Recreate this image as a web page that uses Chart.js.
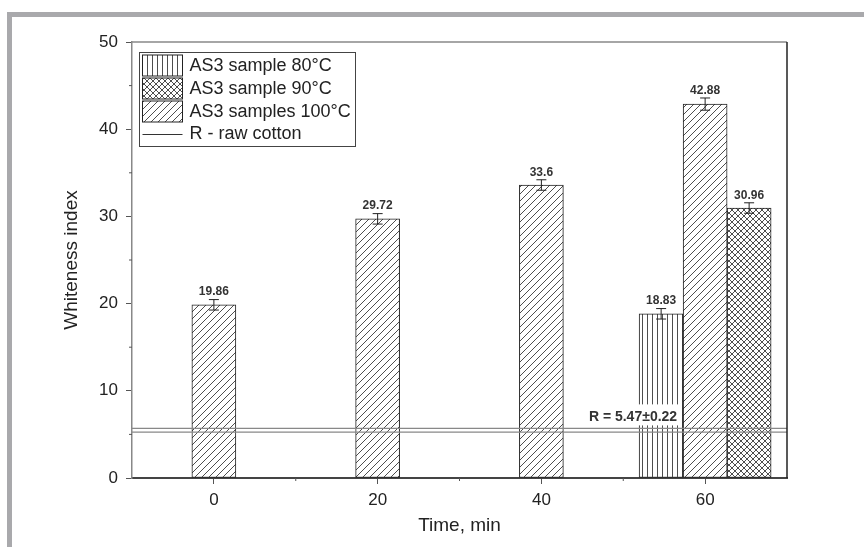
<!DOCTYPE html>
<html>
<head>
<meta charset="utf-8">
<script src="https://cdn.jsdelivr.net/npm/chart.js@4.4.0/dist/chart.umd.min.js"></script>
<style>
  html, body { margin: 0; padding: 0; background: #fff; }
  #wrap { position: relative; width: 864px; height: 547px; }
</style>
</head>
<body>
<div id="wrap"><canvas id="c" width="864" height="547"></canvas></div>
<script>
// data
const times = [0, 20, 40, 60];
const s80 = [null, null, null, 18.83];
const s90 = [null, null, null, 30.96];
const s100 = [19.86, 29.72, 33.6, 42.88];
const err80 = [null, null, null, 0.6];
const err90 = [null, null, null, 0.6];
const err100 = [0.6, 0.6, 0.6, 0.7];
const rawMean = 5.47;
const rawSd = 0.22;
const xRange = [-10, 70];
const xMinor = [10, 30, 50];
const yMinor = [5, 15, 25, 35, 45];
const labels = ['AS3 sample 80°C', 'AS3 sample 90°C', 'AS3 samples 100°C', 'R - raw cotton'];

const FONT = '"Liberation Sans", Arial, sans-serif';
const INK = '#333';

function makePattern(kind) {
  const c = document.createElement('canvas');
  const n = kind === 'vert' ? 5 : (kind === 'diag' ? 7 : 6);
  c.width = n; c.height = n;
  const g = c.getContext('2d');
  g.fillStyle = '#fff';
  g.fillRect(0, 0, n, n);
  g.strokeStyle = '#3a3a3a';
  g.lineWidth = 0.9;
  g.beginPath();
  if (kind === 'vert') {
    g.moveTo(2.5, 0); g.lineTo(2.5, n);
  } else {
    g.moveTo(-1, n + 1); g.lineTo(n + 1, -1);
    if (kind === 'cross') { g.moveTo(-1, -1); g.lineTo(n + 1, n + 1); }
  }
  g.stroke();
  return g.createPattern(c, 'repeat');
}
const pVert = makePattern('vert');
const pCross = makePattern('cross');
const pDiag = makePattern('diag');

const pts = arr => times.map((t, i) => ({ x: t, y: arr[i] }));

const barStyle = { borderColor: '#222', borderWidth: 1, borderSkipped: false, barThickness: 44, skipNull: true };

const decor = {
  id: 'decor',
  beforeDraw(chart) {
    const ctx = chart.ctx;
    ctx.save();
    ctx.fillStyle = '#fff';
    ctx.fillRect(0, 0, chart.width, chart.height);
    ctx.fillStyle = '#a9a9ac';
    ctx.fillRect(7, 12, chart.width - 7, 5);
    ctx.fillRect(7, 12, 5, chart.height - 12);
    ctx.restore();
  },
  afterDatasetsDraw(chart) {
    const ctx = chart.ctx;
    const a = chart.chartArea;
    const xs = chart.scales.x, ys = chart.scales.y;
    ctx.save();
    // error bars and value labels
    const sets = [[0, s80, err80], [1, s100, err100], [2, s90, err90]];
    sets.forEach(([di, vals, errs]) => {
      const meta = chart.getDatasetMeta(di);
      vals.forEach((v, i) => {
        if (v == null) return;
        const x = meta.data[i].x;
        const yt = ys.getPixelForValue(v + errs[i]);
        const yb = ys.getPixelForValue(v - errs[i]);
        ctx.strokeStyle = '#222';
        ctx.lineWidth = 1;
        ctx.beginPath();
        ctx.moveTo(x, yt); ctx.lineTo(x, yb);
        ctx.moveTo(x - 5, yt); ctx.lineTo(x + 5, yt);
        ctx.moveTo(x - 5, yb); ctx.lineTo(x + 5, yb);
        ctx.stroke();
        ctx.fillStyle = INK;
        ctx.font = 'bold 12px ' + FONT;
        ctx.textAlign = 'center';
        ctx.textBaseline = 'bottom';
        ctx.fillText(String(v), x, yt - 1.5);
      });
    });
    // raw cotton label, boxed over the 80°C bar
    const m80 = chart.getDatasetMeta(0).data[3];
    const rx = m80.x + 16;
    const ry = ys.getPixelForValue(rawMean + rawSd) - 2;
    ctx.font = 'bold 14px ' + FONT;
    const rt = 'R = ' + rawMean + '±' + rawSd;
    const tw = ctx.measureText(rt).width;
    ctx.fillStyle = '#fff';
    ctx.fillRect(rx - tw - 3, ry - 22, tw + 6, 21);
    ctx.fillStyle = INK;
    ctx.textAlign = 'right';
    ctx.textBaseline = 'bottom';
    ctx.fillText(rt, rx, ry - 2);
    // frame top and right
    ctx.lineWidth = 1.5;
    ctx.strokeStyle = '#888';
    ctx.beginPath(); ctx.moveTo(a.left, a.top); ctx.lineTo(a.right, a.top); ctx.stroke();
    ctx.strokeStyle = '#222';
    ctx.beginPath(); ctx.moveTo(a.right, a.top); ctx.lineTo(a.right, a.bottom); ctx.stroke();
    // minor ticks
    ctx.lineWidth = 1;
    ctx.strokeStyle = '#555';
    ctx.beginPath();
    xMinor.forEach(v => { const x = xs.getPixelForValue(v); ctx.moveTo(x, a.bottom); ctx.lineTo(x, a.bottom + 3); });
    yMinor.forEach(v => { const y = ys.getPixelForValue(v); ctx.moveTo(a.left, y); ctx.lineTo(a.left - 3, y); });
    ctx.stroke();
    // legend
    const lx = a.left + 7.5, ly = a.top + 10.5;
    ctx.fillStyle = '#fff';
    ctx.fillRect(lx, ly, 216, 94);
    ctx.strokeStyle = '#444';
    ctx.lineWidth = 1;
    ctx.strokeRect(lx, ly, 216, 94);
    const fills = [pVert, pCross, pDiag];
    const rowY = [ly + 2.5, ly + 25.5, ly + 48.5];
    fills.forEach((f, i) => {
      ctx.fillStyle = f;
      ctx.fillRect(lx + 3, rowY[i], 40, 21);
      ctx.strokeStyle = '#222';
      ctx.strokeRect(lx + 3, rowY[i], 40, 21);
    });
    ctx.strokeStyle = '#333';
    ctx.beginPath(); ctx.moveTo(lx + 3, ly + 82); ctx.lineTo(lx + 43, ly + 82); ctx.stroke();
    ctx.fillStyle = '#222';
    ctx.font = '18px ' + FONT;
    ctx.textAlign = 'left';
    ctx.textBaseline = 'middle';
    labels.forEach((t, i) => {
      const cy = i < 3 ? rowY[i] + 11 : ly + 82;
      ctx.fillText(t, lx + 50, cy);
    });
    ctx.restore();
  }
};

new Chart(document.getElementById('c'), {
  type: 'bar',
  data: {
    datasets: [
      Object.assign({ label: labels[0], data: pts(s80), backgroundColor: pVert }, barStyle),
      Object.assign({ label: labels[2], data: pts(s100), backgroundColor: pDiag }, barStyle),
      Object.assign({ label: labels[1], data: pts(s90), backgroundColor: pCross }, barStyle),
      { type: 'line', label: 'R+', order: -1, data: [{ x: xRange[0], y: rawMean + rawSd }, { x: xRange[1], y: rawMean + rawSd }],
        borderColor: '#888', borderWidth: 1.3, pointRadius: 0 },
      { type: 'line', label: 'R-', order: -1, data: [{ x: xRange[0], y: rawMean - rawSd }, { x: xRange[1], y: rawMean - rawSd }],
        borderColor: '#888', borderWidth: 1.3, pointRadius: 0 }
    ]
  },
  options: {
    responsive: false,
    animation: false,
    devicePixelRatio: 1,
    layout: { padding: { left: 56, top: 42, right: 77, bottom: 6 } },
    plugins: { legend: { display: false }, tooltip: { enabled: false } },
    scales: {
      x: {
        type: 'linear', min: xRange[0], max: xRange[1], offset: false,
        afterBuildTicks: s => { s.ticks = times.map(v => ({ value: v })); },
        afterFit: s => { s.height = 63; },
        grid: { drawOnChartArea: false, offset: false, tickLength: 6, tickColor: '#555' },
        border: { color: '#444', width: 2 },
        ticks: { padding: 6, color: '#222', font: { family: FONT, size: 17 } },
        title: { display: true, text: 'Time, min', color: '#222', font: { family: FONT, size: 19 } }
      },
      y: {
        min: 0, max: 50,
        ticks: { stepSize: 10, padding: 8, color: '#222', font: { family: FONT, size: 17 } },
        afterFit: s => { s.width = 76; },
        grid: { drawOnChartArea: false, tickLength: 6, tickColor: '#555' },
        border: { color: '#888', width: 1.5 },
        title: { display: true, text: 'Whiteness index', color: '#222', font: { family: FONT, size: 19 } }
      }
    }
  },
  plugins: [decor]
});
</script>
</body>
</html>
